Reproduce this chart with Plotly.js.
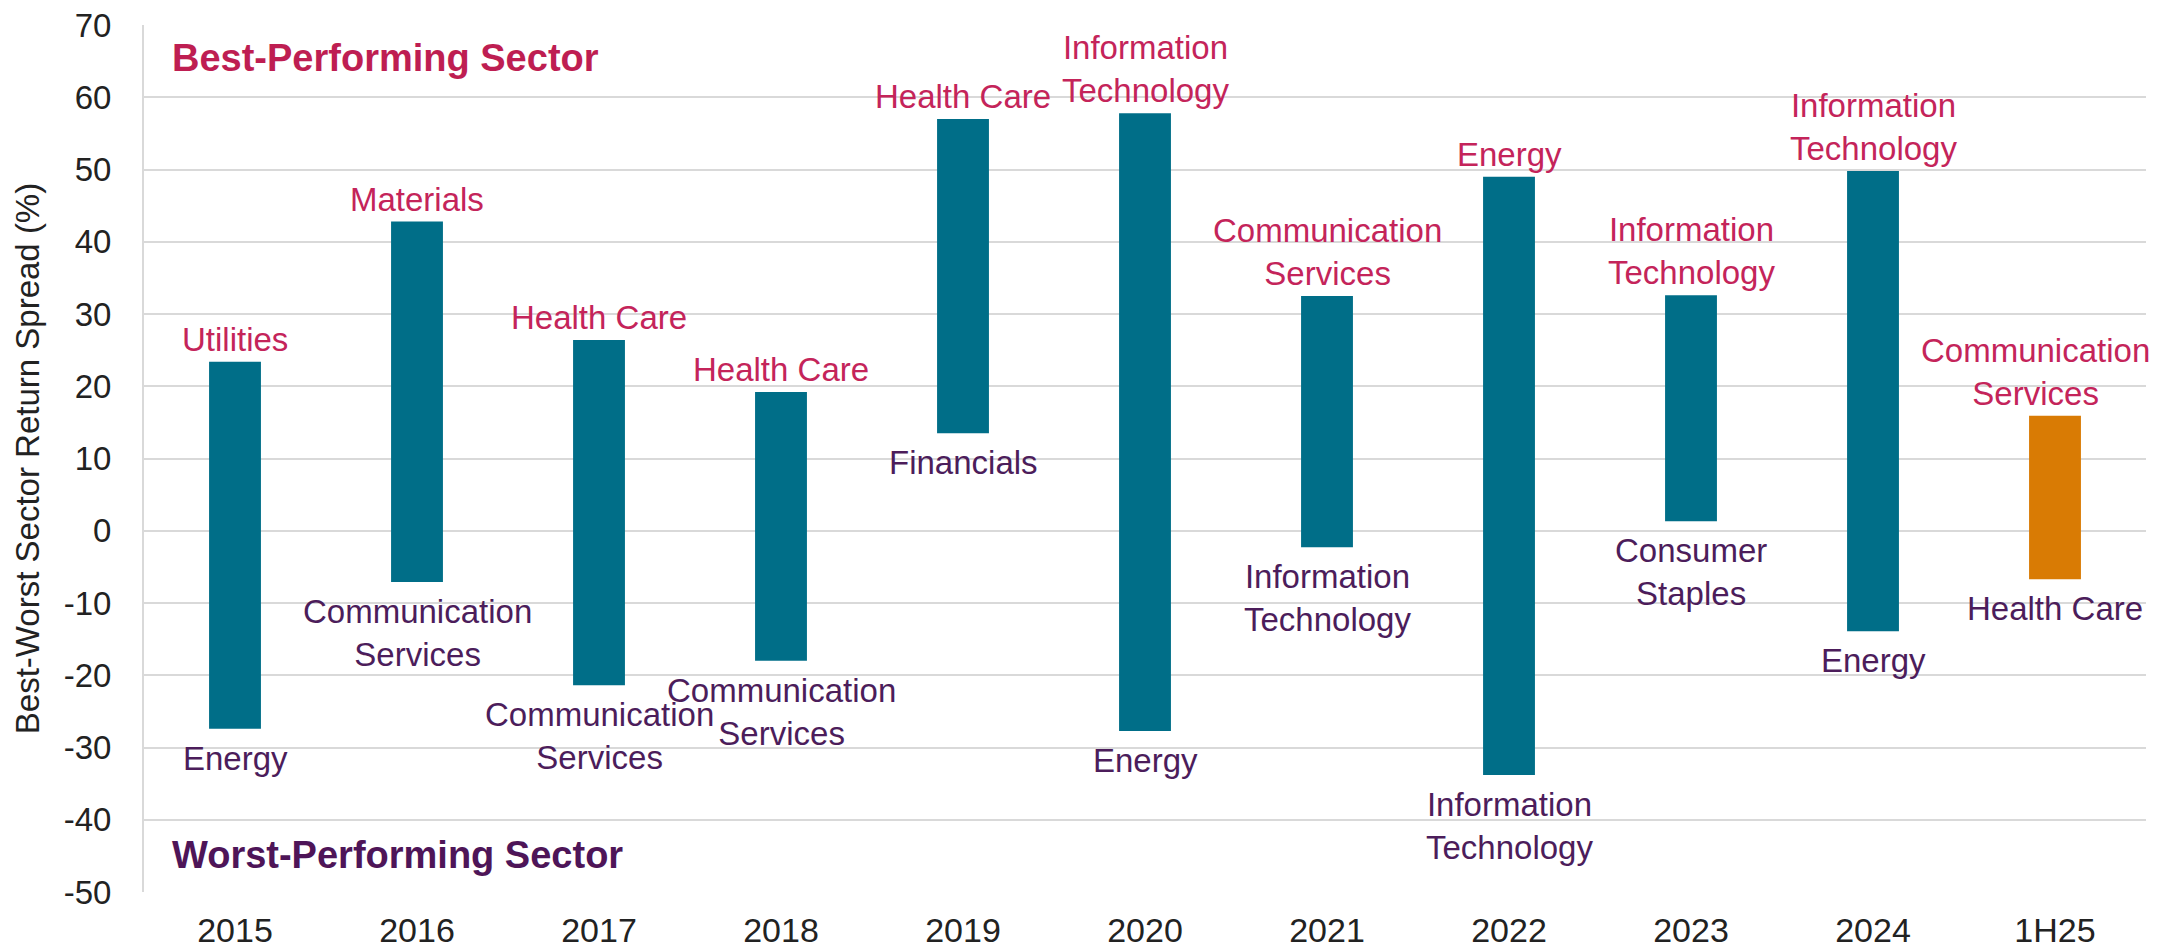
<!DOCTYPE html>
<html>
<head>
<meta charset="utf-8">
<script src="https://cdn.plot.ly/plotly-3.0.1.min.js"></script>
<style>
  html, body { margin: 0; padding: 0; background: #ffffff; }
  #chart { width: 2169px; height: 950px; }
</style>
</head>
<body>
<div id="chart"></div>
<script>
// ---- Data ----
const categories = ['2015', '2016', '2017', '2018', '2019', '2020', '2021', '2022', '2023', '2024', '1H25'];
const bestValues = [23.4, 42.8, 26.4, 19.2, 57.0, 57.8, 32.5, 49.0, 32.6, 49.8, 15.9];
const worstValues = [-27.4, -7.1, -21.4, -18.0, 13.5, -27.7, -2.3, -33.8, 1.3, -13.9, -6.7];
const bestSectors = ['Utilities', 'Materials', 'Health Care', 'Health Care', 'Health Care',
  'Information<br>Technology', 'Communication<br>Services', 'Energy',
  'Information<br>Technology', 'Information<br>Technology', 'Communication<br>Services'];
const worstSectors = ['Energy', 'Communication<br>Services', 'Communication<br>Services',
  'Communication<br>Services', 'Financials', 'Energy', 'Information<br>Technology',
  'Information<br>Technology', 'Consumer<br>Staples', 'Energy', 'Health Care'];
const yTickValues = [-50, -40, -30, -20, -10, 0, 10, 20, 30, 40, 50, 60, 70];

// ---- Styles ----
const FONT = 'Liberation Sans, Arial, sans-serif';
const TEAL = '#006E88';
const ORANGE = '#D97B04';
const BEST_COLOR = '#C4245A';
const WORST_COLOR = '#4C1D5B';

const barColors = categories.map(c => c === '1H25' ? ORANGE : TEAL);

const trace = {
  type: 'bar',
  x: categories,
  base: worstValues,
  y: bestValues.map((b, i) => b - worstValues[i]),
  marker: { color: barColors, line: { width: 0 } },
  width: 0.285,
  hoverinfo: 'skip'
};

const lastIndex = categories.length - 1;
const annotations = [];
categories.forEach((c, i) => {
  annotations.push({
    x: i, y: bestValues[i], xref: 'x', yref: 'y',
    text: bestSectors[i], showarrow: false,
    xanchor: 'center', yanchor: 'bottom', yshift: 2,
    xshift: i === lastIndex ? -20 : 0,
    font: { family: FONT, size: 33, color: BEST_COLOR }
  });
  annotations.push({
    x: i, y: worstValues[i], xref: 'x', yref: 'y',
    text: worstSectors[i], showarrow: false,
    xanchor: 'center', yanchor: 'top', yshift: -9,
    font: { family: FONT, size: 33, color: WORST_COLOR }
  });
});
annotations.push({
  x: 0.013, y: 0.962, xref: 'paper', yref: 'paper',
  text: '<b>Best-Performing Sector</b>', showarrow: false,
  xanchor: 'left', yanchor: 'middle',
  font: { family: FONT, size: 38, color: '#BE1E52' }
});
annotations.push({
  x: 0.013, y: 0.043, xref: 'paper', yref: 'paper',
  text: '<b>Worst-Performing Sector</b>', showarrow: false,
  xanchor: 'left', yanchor: 'middle',
  font: { family: FONT, size: 38, color: '#4E1558' }
});

const layout = {
  width: 2169, height: 950,
  margin: { l: 144, r: 23, t: 25, b: 58, pad: 0 },
  paper_bgcolor: '#ffffff', plot_bgcolor: '#ffffff',
  showlegend: false,
  font: { family: FONT, size: 32, color: '#222222' },
  xaxis: {
    type: 'category',
    categoryorder: 'array', categoryarray: categories,
    range: [-0.5, categories.length - 0.5],
    showgrid: false, zeroline: false, showline: false,
    ticks: 'outside', ticklen: 8, tickcolor: 'rgba(0,0,0,0)',
    tickfont: { family: FONT, size: 34, color: '#222222' },
    fixedrange: true
  },
  yaxis: {
    range: [-50, 70],
    tickmode: 'array', tickvals: yTickValues, ticktext: yTickValues.map(String),
    showgrid: true, gridcolor: '#D9D9D9', gridwidth: 2,
    zeroline: true, zerolinecolor: '#D9D9D9', zerolinewidth: 2,
    showline: true, linecolor: '#D9D9D9', linewidth: 2,
    ticks: 'outside', ticklen: 24, tickcolor: 'rgba(0,0,0,0)',
    tickfont: { family: FONT, size: 33, color: '#222222' },
    title: { text: 'Best-Worst Sector Return Spread (%)', standoff: 14,
             font: { family: FONT, size: 33, color: '#222222' } },
    fixedrange: true
  },
  bargap: 0.7,
  annotations: annotations
};

Plotly.newPlot('chart', [trace], layout, { staticPlot: true, displayModeBar: false });
</script>
</body>
</html>
